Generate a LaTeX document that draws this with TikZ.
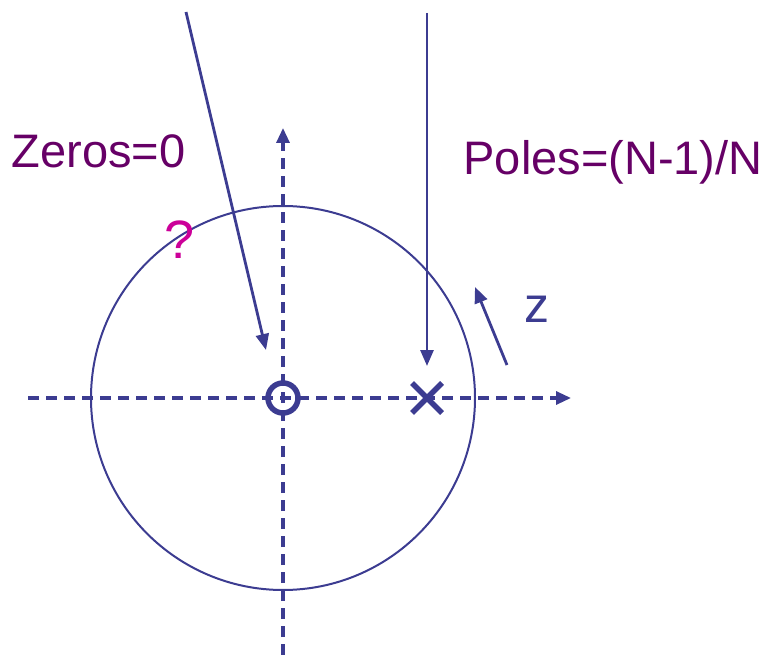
\documentclass[tikz,border=0pt]{standalone}
\usepackage{fontspec}
\setmainfont{Liberation Sans}
\usetikzlibrary{arrows.meta,calc}
\definecolor{axisblue}{RGB}{60,60,145}
\definecolor{labelpurple}{RGB}{102,0,102}
\definecolor{qmagenta}{RGB}{204,0,153}

\begin{document}
\begin{tikzpicture}[x=1pt,y=-1pt,
		axis/.style={axisblue,line width=3.2pt,dash pattern=on 11pt off 7pt,-{Triangle[length=15pt,width=13pt]}},
		pointer/.style={axisblue,line width=2.8pt,-{Triangle[length=16pt,width=13pt]}},
		marker/.style={axisblue,line width=5.5pt},
		label/.style={labelpurple,font=\fontsize{47}{56}\selectfont}]
			\useasboundingbox (0,0) rectangle (769,655); % same window as the reference
			% the unit circle
			\coordinate (origin) at (283,398);
			\draw[axisblue,line width=2pt] (origin) circle (192);
			% real and imaginary axes
			\coordinate (reW) at (28,398);
			\coordinate (reE) at (571,398);
			\coordinate (imS) at (283,655);
			\coordinate (imN) at (283,128);
			\draw[axis] (reW) -- (reE);
			\draw[axis] (imS) -- (imN);
			% zero at the origin, pole on the real axis
			\node[marker,circle,draw,minimum size=30pt,inner sep=0pt] (zero) at (origin) {};
			\node (pole) at (427,398) {};
			\draw[marker] ($(pole)+(-15,-15)$) -- ($(pole)+(15,15)$);
			\draw[marker] ($(pole)+(-15,15)$) -- ($(pole)+(15,-15)$);
			% labels and their pointers
			\node[label,anchor=base west] (zeros) at (8,168) {Zeros=0};
			\node[label,anchor=base west] (poles) at (460,175) {Poles=(N-1)/N};
			\node[qmagenta,font=\fontsize{54}{64}\selectfont] (quest) at (180,240) {?};
			\coordinate (zeroTail) at (186,12);
			\coordinate (zeroTip) at (266,350);
			\coordinate (poleTail) at (427,13);
			\coordinate (poleTip) at (427,366);
			\draw[pointer] (zeroTail) -- (zeroTip);
			\draw[pointer] (poleTail) -- (poleTip);
			% direction of z
			\coordinate (zTail) at (507,365);
			\coordinate (zTip) at (475,287);
			\draw[pointer] (zTail) -- (zTip);
			\node[axisblue,font=\fontsize{50}{60}\selectfont] (zvar) at (537,309) {z};
		\end{tikzpicture}
\end{document}
